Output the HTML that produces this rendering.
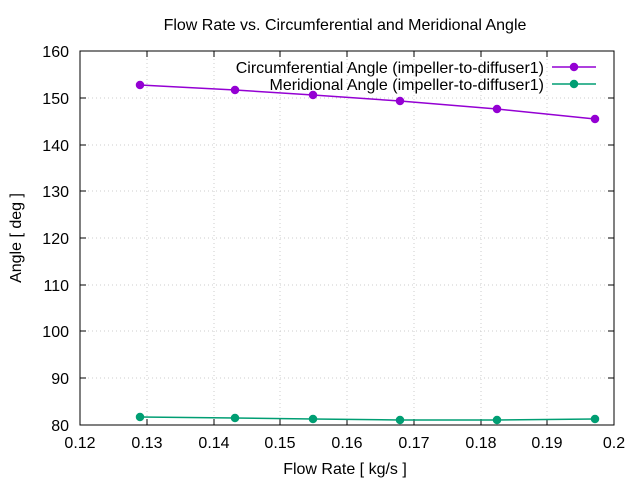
<!DOCTYPE html>
<html><head><meta charset="utf-8"><style>body{margin:0;background:#fff}svg{display:block}text{font-family:"Liberation Sans",sans-serif;font-size:16px;fill:#000}</style></head><body>
<svg width="640" height="480" xmlns="http://www.w3.org/2000/svg">
<g stroke="#ccc" stroke-dasharray="1,3" stroke-width="1">
<line x1="80" y1="98" x2="614" y2="98"/><line x1="80" y1="145" x2="614" y2="145"/><line x1="80" y1="191" x2="614" y2="191"/><line x1="80" y1="238" x2="614" y2="238"/><line x1="80" y1="285" x2="614" y2="285"/><line x1="80" y1="331" x2="614" y2="331"/><line x1="80" y1="378" x2="614" y2="378"/>
<line x1="147" y1="51" x2="147" y2="425"/><line x1="214" y1="51" x2="214" y2="425"/><line x1="280" y1="51" x2="280" y2="425"/><line x1="347" y1="51" x2="347" y2="425"/><line x1="414" y1="51" x2="414" y2="425"/><line x1="481" y1="51" x2="481" y2="425"/><line x1="547" y1="51" x2="547" y2="425"/>
</g>
<rect x="80" y="51" width="534" height="374" fill="none" stroke="#000"/>
<g stroke="#000">
<line x1="80" y1="98" x2="86" y2="98"/><line x1="80" y1="145" x2="86" y2="145"/><line x1="80" y1="191" x2="86" y2="191"/><line x1="80" y1="238" x2="86" y2="238"/><line x1="80" y1="285" x2="86" y2="285"/><line x1="80" y1="331" x2="86" y2="331"/><line x1="80" y1="378" x2="86" y2="378"/>
<line x1="614" y1="98" x2="608" y2="98"/><line x1="614" y1="145" x2="608" y2="145"/><line x1="614" y1="191" x2="608" y2="191"/><line x1="614" y1="238" x2="608" y2="238"/><line x1="614" y1="285" x2="608" y2="285"/><line x1="614" y1="331" x2="608" y2="331"/><line x1="614" y1="378" x2="608" y2="378"/>
<line x1="147" y1="425" x2="147" y2="419"/><line x1="214" y1="425" x2="214" y2="419"/><line x1="280" y1="425" x2="280" y2="419"/><line x1="347" y1="425" x2="347" y2="419"/><line x1="414" y1="425" x2="414" y2="419"/><line x1="481" y1="425" x2="481" y2="419"/><line x1="547" y1="425" x2="547" y2="419"/>
<line x1="147" y1="51" x2="147" y2="57"/><line x1="214" y1="51" x2="214" y2="57"/><line x1="280" y1="51" x2="280" y2="57"/><line x1="347" y1="51" x2="347" y2="57"/><line x1="414" y1="51" x2="414" y2="57"/><line x1="481" y1="51" x2="481" y2="57"/><line x1="547" y1="51" x2="547" y2="57"/>
</g>
<g text-anchor="end"><text x="69" y="57">160</text><text x="69" y="104">150</text><text x="69" y="151">140</text><text x="69" y="197">130</text><text x="69" y="244">120</text><text x="69" y="291">110</text><text x="69" y="337">100</text><text x="69" y="384">90</text><text x="69" y="431">80</text></g>
<g text-anchor="middle"><text x="80" y="448">0.12</text><text x="147" y="448">0.13</text><text x="214" y="448">0.14</text><text x="280" y="448">0.15</text><text x="347" y="448">0.16</text><text x="414" y="448">0.17</text><text x="481" y="448">0.18</text><text x="547" y="448">0.19</text><text x="614" y="448">0.2</text>
<text x="345" y="474">Flow Rate [ kg/s ]</text><text x="345" y="30">Flow Rate vs. Circumferential and Meridional Angle</text>
<text transform="translate(21,238) rotate(-90)">Angle [ deg ]</text></g>
<g text-anchor="end"><text x="544" y="73">Circumferential Angle (impeller-to-diffuser1)</text><text x="544" y="90">Meridional Angle (impeller-to-diffuser1)</text></g>
<g stroke="#9400d3" stroke-width="1.5" fill="#9400d3"><line x1="552" y1="67" x2="596" y2="67"/><circle cx="574" cy="67" r="3.5"/>
<polyline fill="none" points="140,85 235,90 313,95 400,101 497,109 595,119"/>
<circle cx="140" cy="85" r="3.5"/><circle cx="235" cy="90" r="3.5"/><circle cx="313" cy="95" r="3.5"/><circle cx="400" cy="101" r="3.5"/><circle cx="497" cy="109" r="3.5"/><circle cx="595" cy="119" r="3.5"/></g>
<g stroke="#009e73" stroke-width="1.5" fill="#009e73"><line x1="552" y1="84" x2="596" y2="84"/><circle cx="574" cy="84" r="3.5"/>
<polyline fill="none" points="140,417 235,418 313,419 400,420 497,420 595,419"/>
<circle cx="140" cy="417" r="3.5"/><circle cx="235" cy="418" r="3.5"/><circle cx="313" cy="419" r="3.5"/><circle cx="400" cy="420" r="3.5"/><circle cx="497" cy="420" r="3.5"/><circle cx="595" cy="419" r="3.5"/></g>
</svg></body></html>
